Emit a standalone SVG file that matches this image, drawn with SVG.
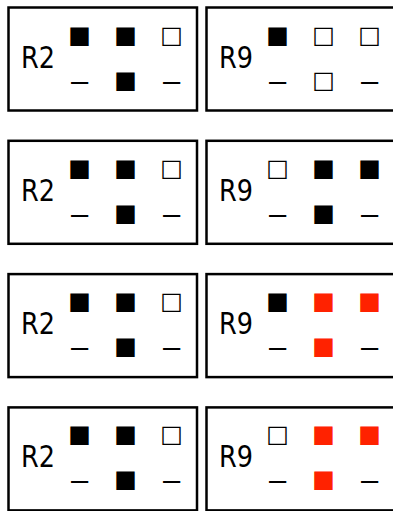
<svg xmlns="http://www.w3.org/2000/svg" width="393" height="511" viewBox="0 0 393 511">
<style>
.box{fill:#fff;stroke:#000;stroke-width:2.5}
.lbl{font-family:"DejaVu Sans Condensed","DejaVu Sans",sans-serif;font-size:31px;fill:#000}
.g{font-family:"DejaVu Sans",sans-serif;font-size:24px;text-anchor:middle;fill:#000}
.d{font-family:"Liberation Sans",sans-serif;font-size:31px;text-anchor:middle;fill:#000}
.r{fill:#ff2200}
</style>
<rect width="393" height="511" fill="#fff"/>
<g id="row1-r2">
<rect class="box" x="8.5" y="7.5" width="188.5" height="103"/>
<text class="lbl" x="21" y="67.5" textLength="34" lengthAdjust="spacingAndGlyphs">R2</text>
<text class="g" x="79.5" y="42.5">■</text><text class="g" x="125.5" y="42.5">■</text><text class="g" x="171.5" y="42.5">□</text>
<text class="d" x="79.5" y="90.5">–</text><text class="g" x="125.5" y="87.5">■</text><text class="d" x="171.5" y="90.5">–</text>
</g>
<g id="row1-r9" transform="translate(198,0)">
<rect class="box" x="8.5" y="7.5" width="188.5" height="103"/>
<text class="lbl" x="21" y="67.5" textLength="34" lengthAdjust="spacingAndGlyphs">R9</text>
<text class="g" x="79.5" y="42.5">■</text><text class="g" x="125.5" y="42.5">□</text><text class="g" x="171.5" y="42.5">□</text>
<text class="d" x="79.5" y="90.5">–</text><text class="g" x="125.5" y="87.5">□</text><text class="d" x="171.5" y="90.5">–</text>
</g>
<g id="row2-r2" transform="translate(0,133.3)">
<rect class="box" x="8.5" y="7.5" width="188.5" height="103"/>
<text class="lbl" x="21" y="67.5" textLength="34" lengthAdjust="spacingAndGlyphs">R2</text>
<text class="g" x="79.5" y="42.5">■</text><text class="g" x="125.5" y="42.5">■</text><text class="g" x="171.5" y="42.5">□</text>
<text class="d" x="79.5" y="90.5">–</text><text class="g" x="125.5" y="87.5">■</text><text class="d" x="171.5" y="90.5">–</text>
</g>
<g id="row2-r9" transform="translate(198,133.3)">
<rect class="box" x="8.5" y="7.5" width="188.5" height="103"/>
<text class="lbl" x="21" y="67.5" textLength="34" lengthAdjust="spacingAndGlyphs">R9</text>
<text class="g" x="79.5" y="42.5">□</text><text class="g" x="125.5" y="42.5">■</text><text class="g" x="171.5" y="42.5">■</text>
<text class="d" x="79.5" y="90.5">–</text><text class="g" x="125.5" y="87.5">■</text><text class="d" x="171.5" y="90.5">–</text>
</g>
<g id="row3-r2" transform="translate(0,266.6)">
<rect class="box" x="8.5" y="7.5" width="188.5" height="103"/>
<text class="lbl" x="21" y="67.5" textLength="34" lengthAdjust="spacingAndGlyphs">R2</text>
<text class="g" x="79.5" y="42.5">■</text><text class="g" x="125.5" y="42.5">■</text><text class="g" x="171.5" y="42.5">□</text>
<text class="d" x="79.5" y="90.5">–</text><text class="g" x="125.5" y="87.5">■</text><text class="d" x="171.5" y="90.5">–</text>
</g>
<g id="row3-r9" transform="translate(198,266.6)">
<rect class="box" x="8.5" y="7.5" width="188.5" height="103"/>
<text class="lbl" x="21" y="67.5" textLength="34" lengthAdjust="spacingAndGlyphs">R9</text>
<text class="g" x="79.5" y="42.5">■</text><text class="g r" x="125.5" y="42.5">■</text><text class="g r" x="171.5" y="42.5">■</text>
<text class="d" x="79.5" y="90.5">–</text><text class="g r" x="125.5" y="87.5">■</text><text class="d" x="171.5" y="90.5">–</text>
</g>
<g id="row4-r2" transform="translate(0,399.9)">
<rect class="box" x="8.5" y="7.5" width="188.5" height="103"/>
<text class="lbl" x="21" y="67.5" textLength="34" lengthAdjust="spacingAndGlyphs">R2</text>
<text class="g" x="79.5" y="42.5">■</text><text class="g" x="125.5" y="42.5">■</text><text class="g" x="171.5" y="42.5">□</text>
<text class="d" x="79.5" y="90.5">–</text><text class="g" x="125.5" y="87.5">■</text><text class="d" x="171.5" y="90.5">–</text>
</g>
<g id="row4-r9" transform="translate(198,399.9)">
<rect class="box" x="8.5" y="7.5" width="188.5" height="103"/>
<text class="lbl" x="21" y="67.5" textLength="34" lengthAdjust="spacingAndGlyphs">R9</text>
<text class="g" x="79.5" y="42.5">□</text><text class="g r" x="125.5" y="42.5">■</text><text class="g r" x="171.5" y="42.5">■</text>
<text class="d" x="79.5" y="90.5">–</text><text class="g r" x="125.5" y="87.5">■</text><text class="d" x="171.5" y="90.5">–</text>
</g>
</svg>
